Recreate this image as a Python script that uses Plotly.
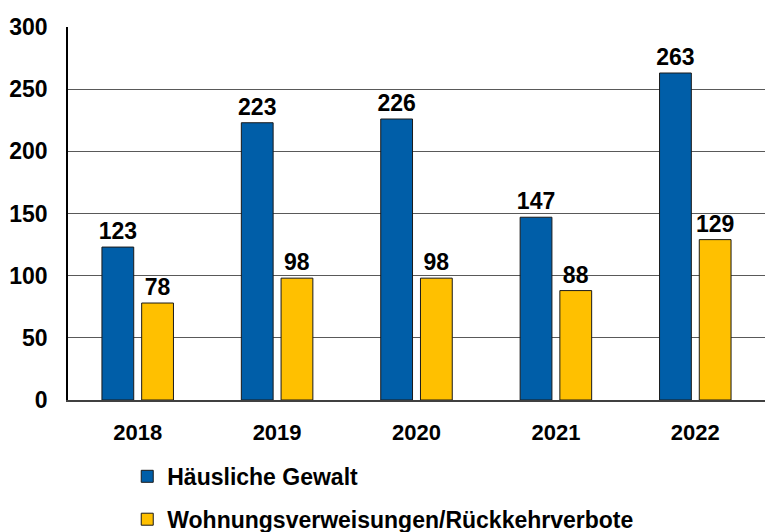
import plotly.graph_objects as go

years = ["2018", "2019", "2020", "2021", "2022"]
haeusliche_gewalt = [123, 223, 226, 147, 263]
verweisungen = [78, 98, 98, 88, 129]

font_bold = "Liberation Sans, Arial, sans-serif"

fig = go.Figure()
fig.add_trace(go.Bar(
    x=years, y=haeusliche_gewalt, name="<b>Häusliche Gewalt</b>",
    marker=dict(color="#005ea8", line=dict(color="#1a1a1a", width=1)),
    text=[f"<b>{v}</b>" for v in haeusliche_gewalt], textposition="outside",
    textfont=dict(size=23, color="black"), cliponaxis=False,
    constraintext="none", legendgroup="a",
))
fig.add_trace(go.Bar(
    x=years, y=verweisungen, name="<b>Wohnungsverweisungen/Rückkehrverbote</b>",
    marker=dict(color="#ffc000", line=dict(color="#1a1a1a", width=1)),
    text=[f"<b>{v}</b>" for v in verweisungen], textposition="outside",
    textfont=dict(size=23, color="black"), cliponaxis=False,
    constraintext="none", legendgroup="b",
))

fig.update_layout(
    width=765, height=532,
    margin=dict(l=68, r=0, t=27, b=132, autoexpand=False),
    plot_bgcolor="white", paper_bgcolor="white",
    font=dict(family=font_bold, size=22, color="black"),
    barmode="group", bargap=0.43, bargroupgap=0.2,
    legend=dict(
        orientation="v", x=0.085, y=0.145, xanchor="left", yanchor="top",
        yref="container", font=dict(size=23), tracegroupgap=10, itemwidth=30,
    ),
    showlegend=True,
)
fig.update_yaxes(
    range=[0, 300], dtick=50, showgrid=True, gridcolor="#595959", gridwidth=1,
    showline=True, linecolor="black", linewidth=1.5,
    tickfont=dict(size=23), tickprefix="<b>", ticksuffix="</b>",
    ticklabelstandoff=14, zeroline=False,
)
fig.update_xaxes(
    showline=True, linecolor="#404040", linewidth=1.5,
    tickfont=dict(size=22), tickprefix="<b>", ticksuffix="</b>",
    ticklabelstandoff=12,
)

# page body has a default margin; drop it so the figure sits at the window corner
fig.write_html("out.html", config={"displayModeBar": False},
               post_script="document.body.style.margin='0px';")
